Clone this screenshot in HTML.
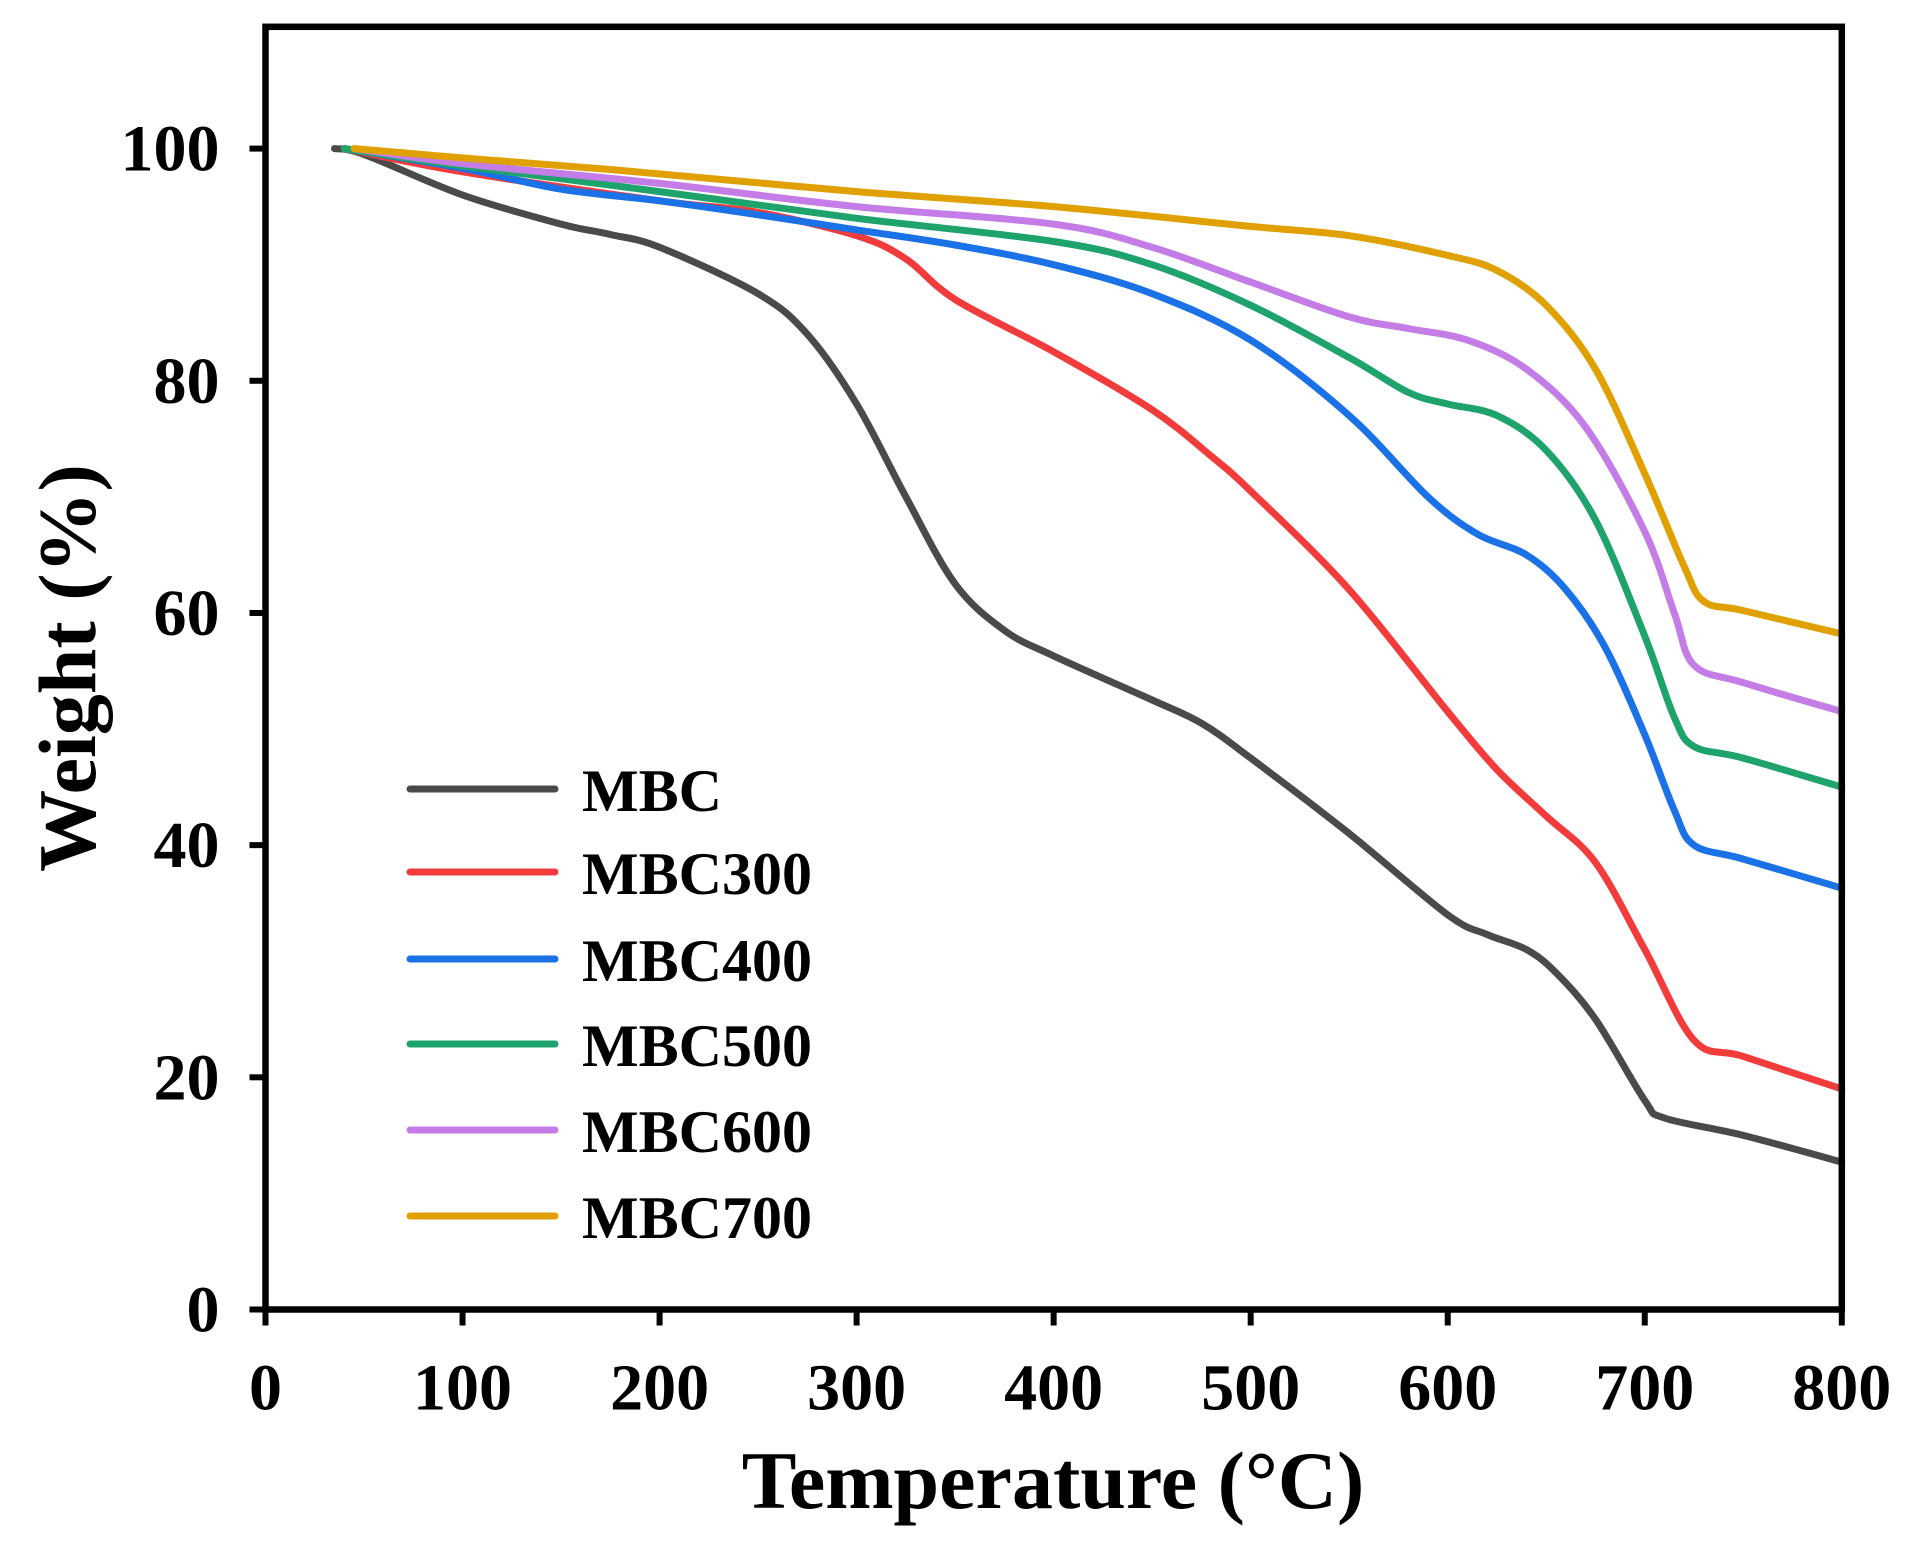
<!DOCTYPE html>
<html><head><meta charset="utf-8"><style>
html,body{margin:0;padding:0;background:#fff;}
svg{display:block;}
text{font-family:"Liberation Serif",serif;font-weight:bold;fill:#000;}
</style></head><body>
<svg id="chart" width="1910" height="1550" viewBox="0 0 1910 1550">
<g id="plot"></g>
</svg>
<script>
const xTicks=[0,100,200,300,400,500,600,700,800];
const yTicks=[0,20,40,60,80,100];
const seriesNames=["MBC","MBC300","MBC400","MBC500","MBC600","MBC700"];
const seriesColors=["#4a4a4a","#f23c3c","#1a72e6","#1ea36c","#c47ce6","#e0a000"];
const mbcT=[35,50,100,150,175,200,250,275,300,325,350,375,400,450,475,500,550,600,620,640,655,675,700,710,750,800];
const mbcW=[100,99.5,96,93.5,92.6,91.5,87.5,84,78,70,62.5,58.5,56.3,52.5,50.5,47.5,41,34,32.3,31,29,25,18,16.5,15,12.7];
const m300T=[40,100,200,250,300,325,350,400,450,480,500,550,600,625,650,675,700,725,750,800];
const m300W=[100,98,95.5,94.5,92.5,90.5,87,82.5,77.5,73.5,70.5,62,51.5,46.5,42.5,38.5,31,23.2,21.8,19];
const m400T=[40,100,150,200,250,300,350,400,450,500,550,590,615,640,660,680,700,715,725,750,800];
const m400W=[100,98.3,96.5,95.5,94.3,93,91.7,90,87.5,83.5,77,70,66.8,65,62,57,49.5,43,40,38.8,36.3];
const m500T=[40,100,200,300,400,450,500,550,580,600,625,650,675,700,715,725,750,800];
const m500W=[100,98.5,96.3,94,92,90,86.5,82,79,78,77,74,68,58,51,48.5,47.5,45];
const m600T=[45,100,200,300,400,450,500,550,580,610,640,670,700,715,725,750,800];
const m600W=[100,98.7,97,95,93.5,91.5,88.5,85.5,84.5,83.5,81,76,67,60,55.5,54,51.5];
const m700T=[45,100,175,300,400,500,550,600,625,650,675,700,720,730,750,800];
const m700W=[100,99.2,98.2,96.3,95,93.3,92.5,90.8,89.5,86.5,81,72,64,61,60.2,58.2];
const allT=[mbcT,m300T,m400T,m500T,m600T,m700T];
const allW=[mbcW,m300W,m400W,m500W,m600W,m700W];

const L=265.5,R=1841.8,B=1309.5,T=26.8;
const X=v=>L+(v/800)*(R-L);
const Y=v=>B-(v/100)*(B-148.6);
const NS="http://www.w3.org/2000/svg";
const g=document.getElementById('plot');
function mk(tag,attrs){const e=document.createElementNS(NS,tag);for(const k in attrs)e.setAttribute(k,attrs[k]);g.appendChild(e);return e;}
function smooth(pts){
  let d='M'+pts[0][0].toFixed(1)+' '+pts[0][1].toFixed(1);
  for(let i=0;i<pts.length-1;i++){
    const p0=pts[Math.max(0,i-1)],p1=pts[i],p2=pts[i+1],p3=pts[Math.min(pts.length-1,i+2)];
    const c1x=p1[0]+(p2[0]-p0[0])/6,c1y=p1[1]+(p2[1]-p0[1])/6;
    const c2x=p2[0]-(p3[0]-p1[0])/6,c2y=p2[1]-(p3[1]-p1[1])/6;
    d+=' C'+c1x.toFixed(1)+' '+c1y.toFixed(1)+' '+c2x.toFixed(1)+' '+c2y.toFixed(1)+' '+p2[0].toFixed(1)+' '+p2[1].toFixed(1);
  }
  return d;
}

allT.forEach((ts,i)=>{
  const pts=ts.map((t,j)=>[X(t),Y(allW[i][j])]);
  const p=mk('path',{d:smooth(pts),fill:'none',stroke:seriesColors[i],'stroke-width':7,'stroke-linejoin':'round','stroke-linecap':'round'});
  
  
});

const frame=mk('rect',{x:L,y:T,width:R-L,height:B-T,fill:'none',stroke:'#000','stroke-width':6.5});



xTicks.forEach(v=>{
  const t=mk('line',{x1:X(v),x2:X(v),y1:B,y2:B+16,stroke:'#000','stroke-width':6});
  
  
  const l=mk('text',{x:X(v),y:B+100,'text-anchor':'middle','font-size':66});
  l.textContent=v;
  
  
});
yTicks.forEach(v=>{
  const t=mk('line',{x1:L-16,x2:L,y1:Y(v),y2:Y(v),stroke:'#000','stroke-width':6});
  
  
  const l=mk('text',{x:L-46,y:Y(v)+22,'text-anchor':'end','font-size':66});
  l.textContent=v;
  
  
});

const xt=mk('text',{x:1053,y:1508,'text-anchor':'middle','font-size':82});
xt.textContent='Temperature (°C)';


const yt=mk('text',{x:0,y:0,'text-anchor':'middle','font-size':82,transform:'translate(95,668) rotate(-90)'});
yt.textContent='Weight  (%)';



const legY=[789,872,959,1044,1130,1216];
seriesNames.forEach((n,i)=>{
  const ln=mk('line',{x1:410,x2:555,y1:legY[i],y2:legY[i],stroke:seriesColors[i],'stroke-width':7,'stroke-linecap':'round'});
  
  
  const tx=mk('text',{x:582,y:legY[i]+22,'font-size':60});
  tx.textContent=n;
  
  
});
</script>
</body></html>
